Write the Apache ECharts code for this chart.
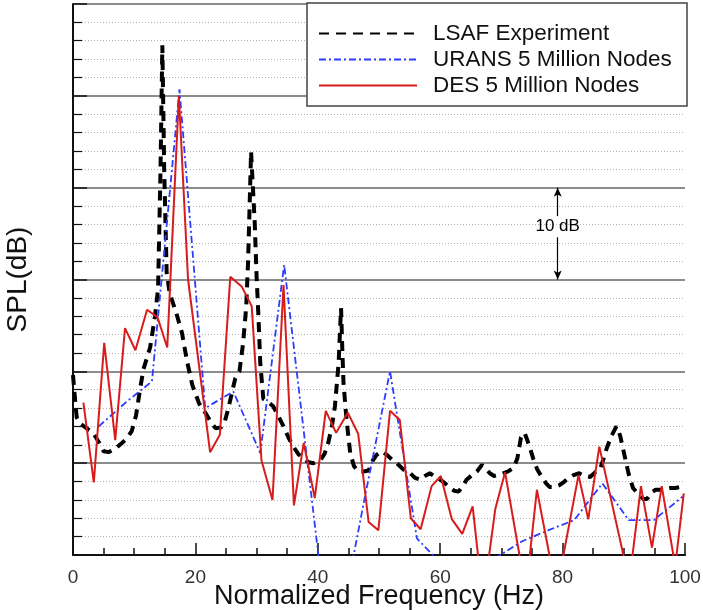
<!DOCTYPE html>
<html>
<head>
<meta charset="utf-8">
<script src="https://cdn.jsdelivr.net/npm/echarts@6/dist/echarts.min.js"></script>
<style>html,body{margin:0;padding:0;background:#fff}#c{width:703px;height:610px}</style>
</head>
<body>
<div id="c"></div>
<script>
// LSAF Experiment
const expFreq = [0,0.3,0.6,1.2,2.2,3.3,4.2,5.0,5.8,6.8,8.0,8.8,9.6,10.3,10.9,11.5,12.1,12.6,13.4,13.9,14.3,14.6,14.9,15.3,15.8,16.9,17.8,18.6,19.5,20.6,21.8,22.6,23.3,24.2,24.8,25.5,26.5,27.2,27.8,28.3,28.6,28.9,29.1,29.4,29.7,30.0,30.3,30.6,31.1,32.0,32.7,33.5,34.4,35.2,36.0,36.8,37.6,38.5,39.3,40.4,41.1,41.7,42.3,42.8,43.4,43.8,44.0,44.2,44.7,45.3,45.9,46.6,47.5,48.3,49.0,49.6,50.4,51.3,52.1,52.9,54.0,55.1,55.9,56.7,57.5,58.3,59.2,60.0,60.8,61.6,62.3,63.0,63.7,64.3,65.2,66.0,66.8,67.5,68.1,68.8,69.5,70.3,71.1,72.0,72.6,73.2,73.8,74.5,75.2,75.8,76.5,77.3,77.9,78.7,79.5,80.3,81.0,81.8,82.7,83.6,84.5,85.3,86.1,86.7,87.2,88.0,88.8,89.4,89.9,90.4,90.8,91.5,92.4,93.2,93.8,94.5,95.2,96.0,96.8,97.6,98.4,99.2,100];
const expSpl  = [19.6,17.2,15.0,14.3,13.8,13.3,12.3,11.3,11.2,11.5,12.2,12.7,13.5,15.2,17.8,20.2,21.5,22.6,26.0,29.0,42.0,55.5,42.0,30.8,28.5,26.3,24.2,21.2,18.5,16.5,15.3,14.4,13.8,13.9,14.5,16.3,19.2,20.0,23.1,27.0,31.8,39.0,43.9,40.0,36.1,30.3,26.0,20.9,17.0,16.6,16.2,15.2,14.0,12.8,11.8,11.0,10.5,10.1,10.0,10.3,11.0,12.2,14.0,16.2,20.9,26.9,22.5,18.7,14.7,11.1,9.7,9.1,9.1,9.2,10.3,10.9,11.3,10.9,10.4,10.0,9.3,8.9,8.4,8.2,8.6,8.9,8.5,8.2,7.8,7.3,7.0,6.9,7.5,8.2,8.7,9.1,9.8,9.4,8.9,8.6,8.7,8.9,9.1,9.5,10.5,12.8,13.3,12.0,10.5,9.4,8.6,7.8,7.4,7.4,7.6,8.0,8.4,8.7,8.9,8.6,8.5,9.0,9.3,10.5,11.6,13.0,14.0,13.0,11.5,10.0,8.8,7.3,6.6,6.1,6.1,6.8,7.1,7.1,7.2,7.3,7.3,7.4,7.4];
// URANS 5 Million Nodes
const uransFreq = [4.2,8.6,12.9,17.4,21.6,26.2,30.6,34.5,40.8,45.0,47.6,51.8,56.2,60.5,65.0,69.1,73.4,77.7,81.9,86.5,90.8,94.9,99.7];
const uransSpl  = [14.0,16.6,18.9,50.7,16.0,17.8,11.1,31.6,-4,-3,6.0,20.0,1.8,-1.2,-4,-0.3,1.5,2.7,3.8,7.8,3.8,3.8,6.4];
// DES 5 Million Nodes
const desFreq = [1.7,3.4,5.1,6.9,8.5,10.2,12.1,13.8,15.4,17.3,18.8,22.4,24.0,25.7,27.6,29.2,30.8,32.6,34.4,36.1,37.7,39.5,41.3,43.0,44.9,46.6,48.3,49.9,51.8,53.4,55.2,56.8,58.6,60.1,61.9,63.6,65.3,67.0,69.0,70.6,74.0,75.8,79.0,82.6,84.2,86.0,90.9,92.8,94.6,96.2,98.4,99.8];
const desSpl  = [16.6,7.9,23.1,12.5,24.7,22.3,26.7,25.9,22.6,50.0,30.0,11.2,13.1,30.3,29.2,27.1,10.3,6.0,29.4,5.4,12.2,6.2,15.7,13.3,15.5,13.2,3.6,2.7,15.7,14.7,4.0,2.8,7.5,8.6,3.9,2.3,5.3,-5,5.0,9.0,-4,7.1,-4,8.7,3.9,11.8,-2.9,7.5,0.8,7.5,-1.2,6.7];

const seriesNames = ['LSAF Experiment','URANS 5 Million Nodes','DES 5 Million Nodes'];
const xTicks = {min:0, max:100, interval:20};
const yRange = {min:0, max:60, interval:10};

const pair = (xs, ys) => xs.map((x, i) => [x, ys[i]]);
const FONT = "'Liberation Sans', Arial, Helvetica, sans-serif";

const chart = echarts.init(document.getElementById('c'), null, {renderer:'canvas'});
chart.setOption({
  animation:false,
  backgroundColor:'#fff',
  grid:{left:73, right:18, top:4, bottom:55, containLabel:false, outerBoundsMode:'none'},
  legend:{
    data:seriesNames,
    orient:'vertical',
    left:307, top:3,
    padding:[19,12,9,11],
    itemGap:3,
    itemWidth:98, itemHeight:14,
    backgroundColor:'#fff',
    borderColor:'#444', borderWidth:1.5,
    itemStyle:{opacity:0, color:'rgba(0,0,0,0)', borderWidth:0},
    textStyle:{fontFamily:FONT, fontSize:22.5, color:'#111', lineHeight:22, padding:[0,0,0,11], width:242},
    z:10
  },
  xAxis:{
    type:'value', min:xTicks.min, max:xTicks.max, interval:xTicks.interval,
    name:'Normalized Frequency (Hz)', nameLocation:'middle', nameGap:28, nameMoveOverlap:false,
    nameTextStyle:{fontFamily:FONT, fontSize:27, color:'#111'},
    axisLine:{show:true, onZero:false, lineStyle:{color:'#111', width:2}},
    axisTick:{show:true, inside:true, length:12, lineStyle:{color:'#111', width:1.5}},
    minorTick:{show:true, splitNumber:4, length:7, lineStyle:{color:'#111', width:1.5}},
    axisLabel:{fontFamily:FONT, fontSize:19, color:'#333', margin:13},
    splitLine:{show:false}
  },
  yAxis:{
    type:'value', min:yRange.min, max:yRange.max, interval:yRange.interval,
    name:'SPL(dB)', nameLocation:'middle', nameGap:41, nameRotate:90, nameMoveOverlap:false,
    nameTextStyle:{fontFamily:FONT, fontSize:28, color:'#111'},
    axisLine:{show:true, lineStyle:{color:'#111', width:2}},
    axisTick:{show:true, inside:true, length:14, lineStyle:{color:'#111', width:1.5}},
    minorTick:{show:true, splitNumber:5, length:9, lineStyle:{color:'#111', width:1.2}},
    axisLabel:{show:false},
    splitLine:{show:true, lineStyle:{color:'#666', width:1.5}},
    minorSplitLine:{show:true, lineStyle:{color:'#b0b0b0', width:1, type:[1,2]}}
  },
  series:[
    {
      name:seriesNames[0], type:'line', data:pair(expFreq, expSpl),
      symbol:'none', clip:true, z:3,
      lineStyle:{color:'#000', width:4, type:[10,7], cap:'butt'},
      itemStyle:{color:'#000'}
    },
    {
      name:seriesNames[1], type:'line', data:pair(uransFreq, uransSpl),
      symbol:'none', clip:true, z:4,
      lineStyle:{color:'#2b3cff', width:1.8, type:[7,3,2,3]},
      itemStyle:{color:'#2b3cff'}
    },
    {
      name:seriesNames[2], type:'line', data:pair(desFreq, desSpl),
      symbol:'none', clip:true, z:5,
      lineStyle:{color:'#d81c1c', width:2},
      itemStyle:{color:'#d81c1c'}
    },
    {
      type:'line', data:[], symbol:'none', silent:true,
      markLine:{
        silent:true, animation:false,
        label:{show:false},
        lineStyle:{color:'#000', width:1.2, type:'solid'},
        symbolSize:[6,9],
        data:[
          [{coord:[79.2,36.9], symbol:'none'},{coord:[79.2,40], symbol:'arrow'}],
          [{coord:[79.2,34.6], symbol:'none'},{coord:[79.2,30], symbol:'arrow'}]
        ]
      },
      markPoint:{
        silent:true, symbol:'circle', symbolSize:0,
        label:{show:true, position:'inside', formatter:'10 dB', fontFamily:FONT, fontSize:17, color:'#000'},
        data:[{coord:[79.2,35.75]}]
      }
    }
  ]
});
</script>
</body>
</html>
